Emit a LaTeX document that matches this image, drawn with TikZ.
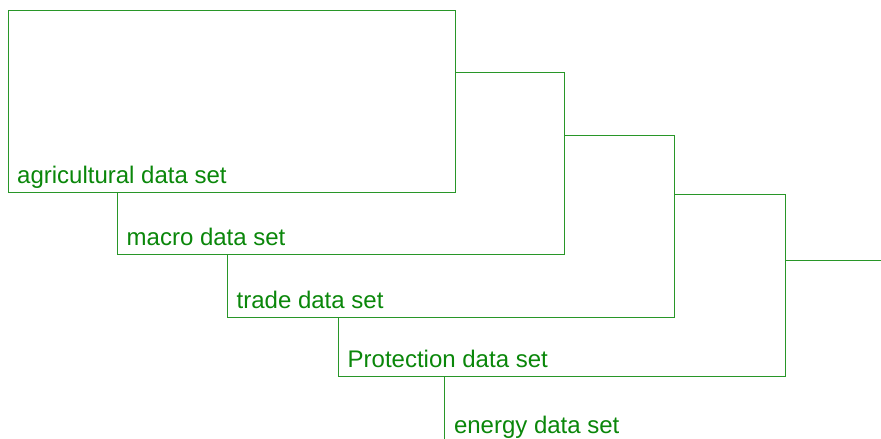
\documentclass[tikz,border=0pt]{standalone}
\usepackage{fontspec}
\setmainfont{Liberation Sans}
\definecolor{linegreen}{RGB}{40,150,40}
\definecolor{textgreen}{RGB}{10,135,10}
\begin{document}
\begin{tikzpicture}[x=1bp,y=-1bp,
  databox/.style={draw=linegreen, line width=0.9bp, fill=white, inner sep=0pt, outer sep=0pt,
    minimum width=447bp, minimum height=182bp, anchor=north west},
  boxlabel/.style={text=textgreen, font=\fontsize{24bp}{28bp}\selectfont, inner sep=0pt, anchor=base west}]
\useasboundingbox (0,0) rectangle (881,439);
\clip (0,0) rectangle (881,439);
\node[databox] (r5) at (444.3,260) {};
\node[databox] (r4) at (338,194.5) {};
\node[databox] (r3) at (227,135.2) {};
\node[databox] (r2) at (117,72.7) {};
\node[databox] (r1) at (8,10.5) {};
\node[boxlabel] (l1) at ([xshift=9bp,yshift=9bp]r1.south west) {agricultural data set};
\node[boxlabel] (l2) at ([xshift=9.5bp,yshift=9bp]r2.south west) {macro data set};
\node[boxlabel] (l3) at ([xshift=9.5bp,yshift=9bp]r3.south west) {trade data set};
\node[boxlabel] (l4) at ([xshift=9.5bp,yshift=9bp]r4.south west) {Protection data set};
\node[boxlabel] (l5) at ([xshift=9.5bp,yshift=9bp]r5.south west) {energy data set};
\end{tikzpicture}
\end{document}
